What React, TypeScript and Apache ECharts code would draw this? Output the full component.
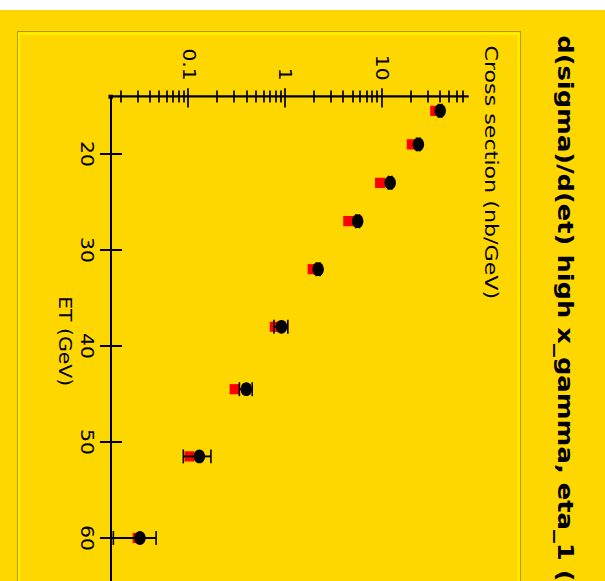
import React, { useEffect, useRef } from "react";
import * as echarts from "echarts";

// ET bin centres (GeV)
const etBins = [15.5, 19, 23, 27, 32, 38, 44.5, 51.5, 60];
// Measured cross section (nb/GeV) and its uncertainty
const measured = [40.2, 23.9, 12.2, 5.62, 2.19, 0.914, 0.395, 0.129, 0.0313];
const measuredErr = [1.6, 1.0, 0.5, 0.25, 0.1, 0.15, 0.06, 0.041, 0.0147];
// Predicted cross section (nb/GeV)
const predicted = [35.7, 20.4, 9.58, 4.49, 1.92, 0.778, 0.299, 0.102, 0.0296];

// Axis ticks
const etTicks = [20, 30, 40, 50, 60];
const sigmaMajorTicks = [0.1, 1, 10];
const sigmaMinorTicks = [
  0.02, 0.03, 0.04, 0.05, 0.06, 0.07, 0.08, 0.09,
  0.2, 0.3, 0.4, 0.5, 0.6, 0.7, 0.8, 0.9,
  2, 3, 4, 5, 6, 7, 8, 9,
  20, 30, 40, 50, 60, 70,
];
const etRange = [14, 65];
const sigmaRange = [0.0157, 78];

const TITLE = "d(sigma)/d(et) high x_gamma, eta_1 (all)";
const Y_NAME = "Cross section (nb/GeV)";
const X_NAME = "ET (GeV)";

const SX = 1.2; // horizontal stretch of the plot canvas
const DESIGN_W = 560;
const DESIGN_H = 605;
const GOLD = "#ffd700";
const SANS = "DejaVu Sans";

function sigmaAxis(extra: any) {
  return {
    type: "log",
    logBase: 10,
    min: sigmaRange[0],
    max: sigmaRange[1],
    position: "left",
    gridIndex: 0,
    splitLine: { show: false },
    minorTick: { show: false },
    axisLine: { show: false },
    axisLabel: { show: false },
    ...extra,
  };
}

function etAxis(extra: any) {
  return {
    type: "value",
    min: etRange[0],
    max: etRange[1],
    position: "bottom",
    gridIndex: 0,
    splitLine: { show: false },
    axisLine: { show: false },
    axisLabel: { show: false },
    ...extra,
  };
}

export default function App() {
  const ref = useRef<HTMLDivElement>(null);

  useEffect(() => {
    if (!ref.current) return;
    const chart = echarts.init(ref.current, null, { renderer: "svg" });
    const tickLine = { color: "#000", width: 1.7 };

    chart.setOption({
      animation: false,
      backgroundColor: GOLD,
      grid: { left: 72, top: 137, width: 408, height: 357 },
      xAxis: [
        etAxis({
          axisLine: { show: true, onZero: false, lineStyle: { color: "#000", width: 2 } },
          axisTick: { show: true, inside: false, length: 11, lineStyle: tickLine, customValues: etTicks },
          axisLabel: {
            show: true,
            customValues: etTicks,
            margin: 16,
            color: "#000",
            fontFamily: SANS,
            fontSize: 17,
          },
          name: X_NAME,
          nameLocation: "middle",
          nameGap: 31,
          nameTextStyle: { color: "#000", fontFamily: SANS, fontSize: 17, verticalAlign: "top" },
        }),
        etAxis({
          axisTick: { show: true, inside: true, length: 11, lineStyle: tickLine, customValues: etTicks },
        }),
      ],
      yAxis: [
        sigmaAxis({
          axisLine: { show: true, onZero: false, lineStyle: { color: "#000", width: 1.8 } },
          axisTick: { show: true, inside: false, length: 6.7, lineStyle: tickLine, customValues: sigmaMajorTicks },
          axisLabel: {
            show: true,
            customValues: sigmaMajorTicks,
            margin: 13,
            color: "#000",
            fontFamily: SANS,
            fontSize: 17,
            formatter: (v: number) => String(v),
          },
        }),
        sigmaAxis({
          axisTick: { show: true, inside: true, length: 9.2, lineStyle: tickLine, customValues: sigmaMajorTicks },
        }),
        sigmaAxis({
          axisTick: { show: true, inside: false, length: 5, lineStyle: tickLine, customValues: sigmaMinorTicks },
        }),
        sigmaAxis({
          axisTick: { show: true, inside: true, length: 5, lineStyle: tickLine, customValues: sigmaMinorTicks },
        }),
      ],
      graphic: [
        {
          type: "rect",
          shape: { x: 18, y: 84.5, width: 800, height: 503 },
          style: { fill: "none", stroke: "#b39a00", lineWidth: 1 },
          silent: true,
          z: -10,
        },
        {
          type: "rect",
          shape: { x: 19.6, y: 86.5, width: 800, height: 499.5 },
          style: { fill: "none", stroke: "#fff200", lineWidth: 2 },
          silent: true,
          z: -10,
        },
        {
          type: "text",
          x: 21,
          y: 40,
          style: {
            text: TITLE,
            fill: "#000",
            font: `bold 21.5px '${SANS}'`,
            textVerticalAlign: "middle",
          },
          silent: true,
        },
        {
          type: "text",
          x: 29.5,
          y: 113.5,
          style: {
            text: Y_NAME,
            fill: "#000",
            font: `18.5px '${SANS}'`,
            textVerticalAlign: "middle",
          },
          silent: true,
        },
        {
          type: "rect",
          shape: { x: 70.6, y: 492, width: 3.4, height: 4.5 },
          style: { fill: "#000" },
          silent: true,
          z: 20,
        },
      ],
      series: [
        {
          name: "predicted",
          type: "scatter",
          xAxisIndex: 0,
          yAxisIndex: 0,
          symbol: "rect",
          symbolSize: [8.5, 10],
          itemStyle: { color: "#ff0000", opacity: 1 },
          data: etBins.map((e, i) => [e, predicted[i]]),
          z: 2,
        },
        {
          name: "errors",
          type: "custom",
          xAxisIndex: 0,
          yAxisIndex: 0,
          data: etBins.map((e, i) => [e, measured[i] - measuredErr[i], measured[i] + measuredErr[i]]),
          encode: { x: 0, y: [1, 2] },
          renderItem: (_params: any, api: any) => {
            const et = api.value(0);
            const lo = api.coord([et, api.value(1)]);
            const hi = api.coord([et, api.value(2)]);
            const cap = 5.8;
            const st = { stroke: "#000", lineWidth: 1.6 };
            return {
              type: "group",
              children: [
                { type: "line", shape: { x1: lo[0], y1: lo[1], x2: hi[0], y2: hi[1] }, style: st },
                { type: "line", shape: { x1: lo[0] - cap, y1: lo[1], x2: lo[0] + cap, y2: lo[1] }, style: st },
                { type: "line", shape: { x1: hi[0] - cap, y1: hi[1], x2: hi[0] + cap, y2: hi[1] }, style: st },
              ],
            };
          },
          z: 3,
        },
        {
          name: "measured",
          type: "scatter",
          xAxisIndex: 0,
          yAxisIndex: 0,
          symbol: "circle",
          symbolSize: 11.5,
          itemStyle: { color: "#000", opacity: 1 },
          data: etBins.map((e, i) => [e, measured[i]]),
          z: 4,
        },
      ],
    });

    return () => chart.dispose();
  }, []);

  return (
    <div
      style={{
        position: "fixed",
        left: 0,
        top: 0,
        width: 605,
        height: 581,
        overflow: "hidden",
        background: "#fff",
      }}
    >
      <div
        style={{
          position: "absolute",
          left: 0,
          top: 0,
          width: DESIGN_W,
          height: DESIGN_H,
          transformOrigin: "0 0",
          transform: `translate(605px, 10px) rotate(90deg) scale(${SX}, 1)`,
        }}
      >
        <div ref={ref} style={{ width: DESIGN_W, height: DESIGN_H }} />
      </div>
    </div>
  );
}
